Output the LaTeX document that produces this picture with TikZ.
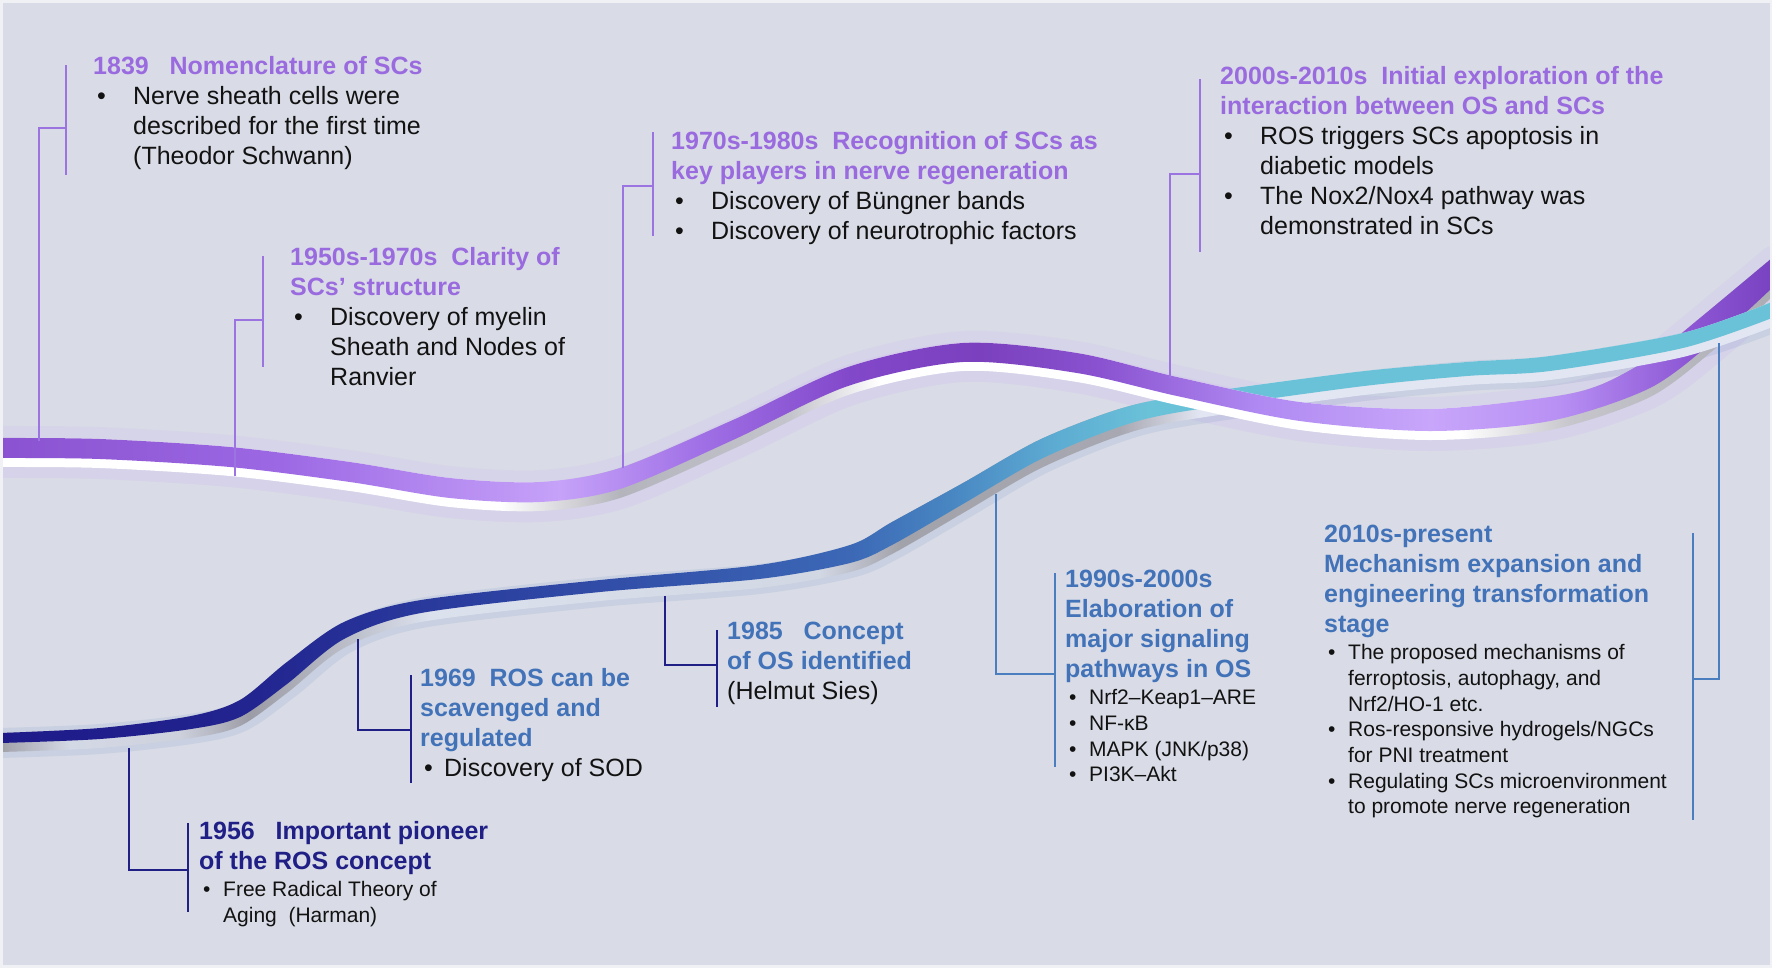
\documentclass[tikz,border=0pt]{standalone}
\usepackage{fontspec}
\setmainfont{Liberation Sans}
\usetikzlibrary{positioning,calc}

\definecolor{Canvas}{HTML}{D9DCE6}
\definecolor{Rim}{HTML}{EFF1F5}
\definecolor{Lilac}{HTML}{9A6ADF}
\definecolor{LilacLine}{HTML}{9B74E2}
\definecolor{Indigo}{HTML}{1F1F86}
\definecolor{Steel}{HTML}{4272B8}
\definecolor{SteelLine}{HTML}{4A7EBE}
\definecolor{Ink}{HTML}{121212}
% ribbon colours
\definecolor{rpA}{HTML}{8A52D0}
\definecolor{rpB}{HTML}{9C68E4}
\definecolor{rpC}{HTML}{C6A2F9}
\definecolor{rpD}{HTML}{A070E6}
\definecolor{rpE}{HTML}{8248CA}
\definecolor{rpF}{HTML}{7A40BE}
\definecolor{rpG}{HTML}{8A52D0}
\definecolor{rpH}{HTML}{B08AF2}
\definecolor{rpI}{HTML}{C8A6FA}
\definecolor{rpJ}{HTML}{B890F4}
\definecolor{rpK}{HTML}{8C56D4}
\definecolor{rpL}{HTML}{7842C0}
\definecolor{rbA}{HTML}{1E1A8A}
\definecolor{rbB}{HTML}{22248F}
\definecolor{rbC}{HTML}{2A3C9E}
\definecolor{rbD}{HTML}{3352AA}
\definecolor{rbE}{HTML}{3C68B6}
\definecolor{rbF}{HTML}{4886C2}
\definecolor{rbG}{HTML}{5CAAD2}
\definecolor{rbH}{HTML}{6AC2D8}
\definecolor{wsB}{HTML}{B4B4BC}
\definecolor{wsC}{HTML}{C4C4CC}
\definecolor{wsD}{HTML}{C6C6CC}
\definecolor{wsE}{HTML}{ACACB4}
\definecolor{bsA}{HTML}{A0A0A8}
\definecolor{bsB}{HTML}{D4D9E6}
\definecolor{bsC}{HTML}{CDD1DC}
\definecolor{bsD}{HTML}{9C9CA6}
\definecolor{bsE}{HTML}{BFC3CE}
\definecolor{bsF}{HTML}{DCE1EE}
\definecolor{bsG}{HTML}{D2D7E4}
\definecolor{bsH}{HTML}{A2A2AA}
\definecolor{bsI}{HTML}{A8A8B2}
\definecolor{bsJ}{HTML}{E2E6F2}

\pgfdeclarehorizontalshading{lilacband}{100bp}{color(0bp)=(rpA); color(25bp)=(rpA);
  color(32.9bp)=(rpB); color(40.8bp)=(rpC); color(44.75bp)=(rpD); color(49bp)=(rpE);
  color(52.65bp)=(rpF); color(56.04bp)=(rpG); color(60.55bp)=(rpH); color(65.35bp)=(rpI);
  color(69bp)=(rpJ); color(72.7bp)=(rpK); color(75bp)=(rpL); color(100bp)=(rpL)}
\pgfdeclarehorizontalshading{blueband}{100bp}{color(0bp)=(rbA); color(25bp)=(rbA);
  color(32.05bp)=(rbB); color(37.7bp)=(rbC); color(43.34bp)=(rbD); color(48.98bp)=(rbE);
  color(51.8bp)=(rbF); color(54.63bp)=(rbG); color(57.45bp)=(rbH); color(100bp)=(rbH)}
\pgfdeclarehorizontalshading{silverlilac}{100bp}{color(0bp)=(white); color(39.11bp)=(white);
  color(42.5bp)=(wsB); color(47.3bp)=(wsC); color(49.83bp)=(white); color(66.2bp)=(white);
  color(69.3bp)=(wsD); color(75bp)=(wsE); color(100bp)=(wsE)}
\pgfdeclarehorizontalshading{silverblue}{100bp}{color(0bp)=(bsA); color(25bp)=(bsA);
  color(26.98bp)=(bsB); color(30.08bp)=(bsC); color(32.05bp)=(bsD); color(35.16bp)=(bsE);
  color(37.13bp)=(bsF); color(48.14bp)=(bsG); color(50.4bp)=(bsH); color(56.6bp)=(bsI);
  color(58.86bp)=(bsJ); color(100bp)=(bsJ)}

\newlength{\bw}
\newcommand{\bul}{\strut\makebox[\bw][l]{\hspace{4pt}\textbullet}}
\newcommand{\cnt}{\strut\hspace*{\bw}}

\tikzset{
  ttl/.style={font=\fontsize{25}{30}\selectfont\bfseries, text=#1,
    align=left, inner sep=0pt, anchor=north west},
  bodyA/.style={font=\fontsize{25}{30}\selectfont\setlength{\bw}{#1},
    text=Ink, align=left, inner sep=0pt},
  bodyA/.default={40pt},
  bodyB/.style={font=\fontsize{21}{25.7}\selectfont\setlength{\bw}{24pt},
    text=Ink, align=left, inner sep=0pt},
  stalk/.style={draw=#1, line width=1.8pt},
  halo/.style={line width=#1, line cap=round, opacity=0.12},
}

\begin{document}
\begin{tikzpicture}[x=1pt, y=-1pt]
  \useasboundingbox (0,0) rectangle (1772,967);
  \fill[Canvas] (0,0) rectangle (1772,967);

  \begin{scope}
    \clip (0,0) rectangle (1772,967);
    % glow
    \draw[halo=40pt, color=rpC, opacity=.16] plot[smooth] coordinates {(0,458) (100,459) (230,467) (350,482) (450,498) (540,502) (620,489) (733,440) (848,386) (963,362) (1077,373) (1177,396) (1300,421) (1430,431) (1550,421) (1650,388) (1717,338) (1772,288)};
    \draw[halo=24pt, color=rpC] plot[smooth] coordinates {(0,438) (100,439) (230,447) (350,462) (450,478) (540,482) (620,468) (733,420) (848,367) (963,343) (1077,353) (1177,377) (1300,402) (1430,409) (1550,397) (1600,385) (1650,358) (1700,318) (1772,258)};
    \draw[halo=30pt, color=rbE, opacity=.10] plot[smooth] coordinates {(0,743) (100,739) (191,729) (240,717) (287,684) (344,639) (421,613) (600,592) (759,579) (850,563) (892,545) (963,504) (1039,460) (1116,428) (1180,412) (1356,387) (1467,376) (1550,371) (1683,348) (1772,318)};

    % OS ribbon
    \shade[shading=silverblue] plot[smooth] coordinates {(0,733) (100,728) (191,716) (240,700) (287,662) (344,622) (421,600) (600,580) (759,565) (850,545) (892,522) (963,483) (1039,440) (1116,410) (1180,396) (1356,372) (1467,362) (1550,356) (1683,333) (1772,302)}
      -- plot[smooth] coordinates {(1772,327) (1683,357) (1550,380) (1467,385) (1356,396) (1180,421) (1116,437) (1039,469) (963,513) (892,554) (850,572) (759,588) (600,601) (421,622) (344,648) (287,693) (240,726) (191,738) (100,748) (0,752)} -- cycle;
    \shade[shading=blueband] plot[smooth] coordinates {(0,733) (100,728) (191,716) (240,700) (287,662) (344,622) (421,600) (600,580) (759,565) (850,545) (892,522) (963,483) (1039,440) (1116,410) (1180,396) (1356,372) (1467,362) (1550,356) (1683,333) (1772,302)}
      -- plot[smooth] coordinates {(1772,318) (1683,348) (1550,371) (1467,376) (1356,387) (1180,412) (1116,428) (1039,460) (963,504) (892,545) (850,563) (759,579) (600,592) (421,613) (344,639) (287,684) (240,717) (191,729) (100,739) (0,743)} -- cycle;

    % SC ribbon
    \shade[shading=silverlilac] plot[smooth] coordinates {(0,438) (100,439) (230,447) (350,462) (450,478) (540,482) (620,468) (733,420) (848,367) (963,343) (1077,353) (1177,377) (1300,402) (1430,409) (1550,397) (1600,385) (1650,358) (1700,318) (1772,258)}
      -- plot[smooth] coordinates {(1772,297) (1717,347) (1650,397) (1550,430) (1430,440) (1300,430) (1177,405) (1077,382) (963,371) (848,395) (733,449) (620,498) (540,511) (450,507) (350,491) (230,476) (100,468) (0,467)} -- cycle;
    \shade[shading=lilacband] plot[smooth] coordinates {(0,438) (100,439) (230,447) (350,462) (450,478) (540,482) (620,468) (733,420) (848,367) (963,343) (1077,353) (1177,377) (1300,402) (1430,409) (1550,397) (1600,385) (1650,358) (1700,318) (1772,258)}
      -- plot[smooth] coordinates {(1772,288) (1717,338) (1650,388) (1550,421) (1430,431) (1300,421) (1177,396) (1077,373) (963,362) (848,386) (733,440) (620,489) (540,502) (450,498) (350,482) (230,467) (100,459) (0,458)} -- cycle;

    % cyan end runs in front
    \begin{scope}
      \clip (1600,0) rectangle (1772,967);
      \fill[bsJ] plot[smooth] coordinates {(1180,396) (1356,372) (1467,362) (1550,356) (1683,333) (1772,302)}
        -- plot[smooth] coordinates {(1772,327) (1683,357) (1550,380) (1467,385) (1356,396) (1180,421)} -- cycle;
      \fill[rbH] plot[smooth] coordinates {(1180,396) (1356,372) (1467,362) (1550,356) (1683,333) (1772,302)}
        -- plot[smooth] coordinates {(1772,318) (1683,348) (1550,371) (1467,376) (1356,387) (1180,412)} -- cycle;
    \end{scope}
  \end{scope}
  \draw[Rim, line width=5pt] (0,0) rectangle (1772,967);

  % SC milestones
  \node[ttl=Lilac] (t1839) at (93,53) {\strut 1839~~~Nomenclature of SCs};
  \node[bodyA, below right=0pt and 0pt of t1839.south west] (b1839)
    {\bul Nerve sheath cells were\\ \cnt described for the first time\\ \cnt (Theodor Schwann)};

  \node[ttl=Lilac] (t1950) at (290,244) {\strut 1950s-1970s~~Clarity of\\ \strut SCs’ structure};
  \node[bodyA, below right=0pt and 0pt of t1950.south west] (b1950)
    {\bul Discovery of myelin\\ \cnt Sheath and Nodes of\\ \cnt Ranvier};

  \node[ttl=Lilac] (t1970) at (671,128)
    {\strut 1970s-1980s~~Recognition of SCs as\\ \strut key players in nerve regeneration};
  \node[bodyA, below right=0pt and 0pt of t1970.south west] (b1970)
    {\bul Discovery of Büngner bands\\ \bul Discovery of neurotrophic factors};

  \node[ttl=Lilac] (t2000) at (1220,63)
    {\strut 2000s-2010s~~Initial exploration of the\\ \strut interaction between OS and SCs};
  \node[bodyA, below right=0pt and 0pt of t2000.south west] (b2000)
    {\bul ROS triggers SCs apoptosis in\\ \cnt diabetic models\\ \bul The Nox2/Nox4 pathway was\\ \cnt demonstrated in SCs};

  % OS milestones
  \node[ttl=Indigo] (t1956) at (199,818) {\strut 1956~~~Important pioneer\\ \strut of the ROS concept};
  \node[bodyB, below right=0pt and 0pt of t1956.south west] (b1956)
    {\bul Free Radical Theory of\\ \cnt Aging~~(Harman)};

  \node[ttl=Steel] (t1969) at (420,665) {\strut 1969~~ROS can be\\ \strut scavenged and\\ \strut regulated};
  \node[bodyA=24pt, below right=0pt and 0pt of t1969.south west] (b1969)
    {\bul Discovery of SOD};

  \node[ttl=Steel] (t1985) at (727,618) {\strut 1985~~~Concept\\ \strut of OS identified};
  \node[bodyA, below right=0pt and 0pt of t1985.south west] (b1985)
    {\strut (Helmut Sies)};

  \node[ttl=Steel] (t1990) at (1065,566)
    {\strut 1990s-2000s\\ \strut Elaboration of\\ \strut major signaling\\ \strut pathways in OS};
  \node[bodyB, below right=0pt and 0pt of t1990.south west] (b1990)
    {\bul Nrf2–Keap1–ARE\\ \bul NF-κB\\ \bul MAPK (JNK/p38)\\ \bul PI3K–Akt};

  \node[ttl=Steel] (t2010) at (1324,521)
    {\strut 2010s-present\\ \strut Mechanism expansion and\\ \strut engineering transformation\\ \strut stage};
  \node[bodyB, below right=0pt and 0pt of t2010.south west] (b2010)
    {\bul The proposed mechanisms of\\ \cnt ferroptosis, autophagy, and\\ \cnt Nrf2/HO-1 etc.\\
     \bul Ros-responsive hydrogels/NGCs\\ \cnt for PNI treatment\\
     \bul Regulating SCs microenvironment\\ \cnt to promote nerve regeneration};

  % brackets down to the ribbons
  \coordinate (r1839) at (39,441);   \coordinate (a1839) at (66,65);    \coordinate (z1839) at (66,175);
  \coordinate (r1950) at (235,476);  \coordinate (a1950) at (263,256);  \coordinate (z1950) at (263,367);
  \coordinate (r1970) at (623,468);  \coordinate (a1970) at (653,132);  \coordinate (z1970) at (653,236);
  \coordinate (r2000) at (1170,378); \coordinate (a2000) at (1200,79);  \coordinate (z2000) at (1200,252);
  \coordinate (r1956) at (129,748);  \coordinate (a1956) at (188,823);  \coordinate (z1956) at (188,912);
  \coordinate (r1969) at (358,639);  \coordinate (a1969) at (411,675);  \coordinate (z1969) at (411,783);
  \coordinate (r1985) at (665,596);  \coordinate (a1985) at (717,630);  \coordinate (z1985) at (717,707);
  \coordinate (r1990) at (996,494);  \coordinate (a1990) at (1055,573); \coordinate (z1990) at (1055,767);
  \coordinate (r2010) at (1719,343); \coordinate (a2010) at (1693,533); \coordinate (z2010) at (1693,820);

  \draw[stalk=LilacLine] (a1839) -- (z1839) (r1839) |- ($(a1839)!.57!(z1839)$);
  \draw[stalk=LilacLine] (a1950) -- (z1950) (r1950) |- ($(a1950)!.58!(z1950)$);
  \draw[stalk=LilacLine] (a1970) -- (z1970) (r1970) |- ($(a1970)!.52!(z1970)$);
  \draw[stalk=LilacLine] (a2000) -- (z2000) (r2000) |- ($(a2000)!.55!(z2000)$);
  \draw[stalk=Indigo] (a1956) -- (z1956) (r1956) |- ($(a1956)!.53!(z1956)$);
  \draw[stalk=Indigo] (a1969) -- (z1969) (r1969) |- ($(a1969)!.51!(z1969)$);
  \draw[stalk=Indigo] (a1985) -- (z1985) (r1985) |- ($(a1985)!.45!(z1985)$);
  \draw[stalk=SteelLine] (a1990) -- (z1990) (r1990) |- ($(a1990)!.52!(z1990)$);
  \draw[stalk=SteelLine] (a2010) -- (z2010) (r2010) |- ($(a2010)!.51!(z2010)$);
\end{tikzpicture}
\end{document}
